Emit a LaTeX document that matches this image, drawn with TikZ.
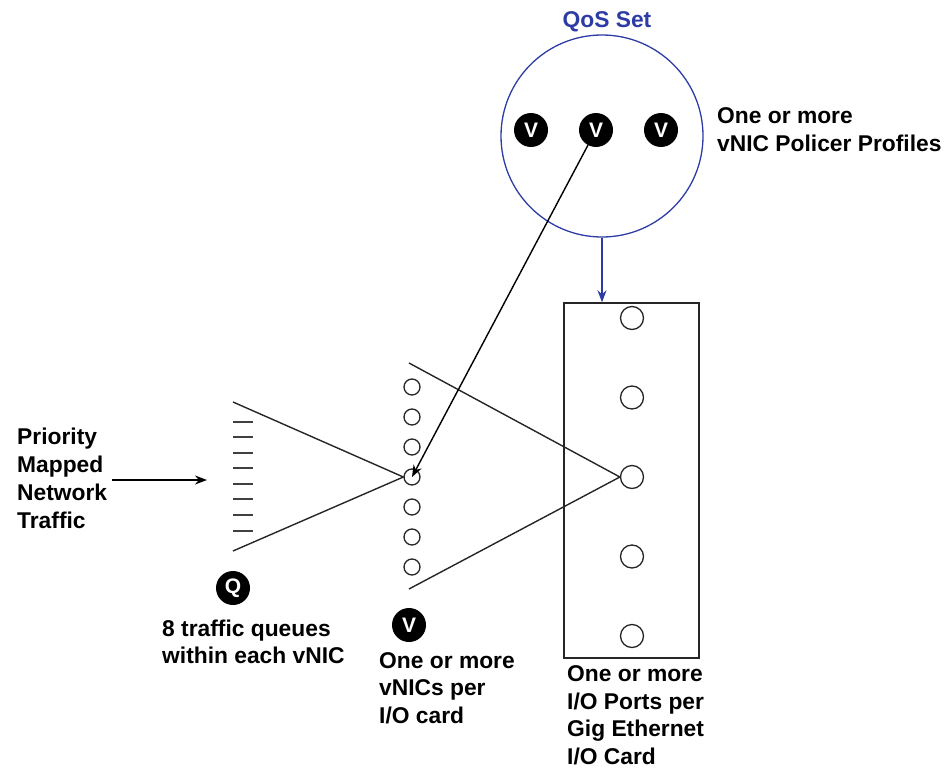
\documentclass[tikz,border=0pt]{standalone}
\usepackage{fontspec}
\setmainfont{Liberation Sans}
\usepackage{tikz}
\usetikzlibrary{positioning,arrows.meta}
\definecolor{qosc}{RGB}{45,60,165}
\newcommand{\lblfont}{\fontsize{22.8}{27.5}\selectfont\bfseries}
\tikzset{
  lab/.style={anchor=base west,align=left,inner sep=0pt,font=\lblfont},
  badge/.style={circle,fill=black,minimum size=34pt,inner sep=0pt,text=white,font=\fontsize{21}{21}\selectfont\bfseries},
  vnic/.style={circle,draw=black!85,line width=1.3pt,minimum size=16pt,inner sep=0pt},
  port/.style={circle,draw=black!85,line width=1.3pt,minimum size=23pt,inner sep=0pt},
  fan/.style={line width=1.4pt,black!85},
  tick/.style={line width=1.3pt,black!75},
  flow/.style={-{Stealth[length=12pt,width=9pt]},line width=1.4pt},
  qflow/.style={-{Stealth[length=12pt,width=9pt]},line width=1.4pt,qosc},
}
\begin{document}
\begin{tikzpicture}[x=1pt,y=-1pt]
  \useasboundingbox (0,0) rectangle (945,768);
  \node[circle,draw=qosc,line width=1.3pt,minimum size=202pt,inner sep=0pt] (qos) at (602,136) {};
  \node[anchor=base,inner sep=0pt,font=\lblfont,text=qosc] (qoslab) at (607,28) {QoS Set};
  \node[badge] (pv1) at (531,130) {V};
  \node[badge] (pv2) at (596,130) {V};
  \node[badge] (pv3) at (661,130) {V};
  \node[lab] (policer) at (717,151) {One or more\\vNIC Policer Profiles};
  \node[draw=black!85,line width=1.4pt,minimum width=135pt,minimum height=355pt,inner sep=0pt] (card) at (631.5,480.5) {};
  \foreach \i in {1,...,5}
    \node[port] (p\i) at (632,{318+79.5*(\i-1)}) {};
  \foreach \i in {1,...,7}
    \node[vnic] (v\i) at (412,{387+30*(\i-1)}) {};
  \foreach \y in {422,437,453,468,484,499,515,531}
    \draw[tick] (233,\y) -- ++(20,0);
  \coordinate (qtop) at (233,402);
  \coordinate (qbot) at (233,551);
  \coordinate (ftop) at (409,363);
  \coordinate (fbot) at (409,589);
  \coordinate (qin) at (207,480);
  \draw[fan] (qtop) -- (v4.west) -- (qbot);
  \draw[fan] (ftop) -- (p3.west) -- (fbot);
  \node[lab,font=\fontsize{22.8}{28}\selectfont\bfseries] (traffic) at (17,528) {Priority\\Mapped\\Network\\Traffic};
  \draw[flow] ([xshift=5pt]qin -| traffic.east) -- (qin);
  \draw[qflow] (qos.south) -- (qos.south |- card.north);
  \draw[flow] (pv2) -- (v4.center);
  \node[badge] (qbadge) at (233,588) {Q};
  \node[lab] (queues) at (162,663.5) {8 traffic queues\\within each vNIC};
  \node[badge] (vbadge) at (409,625) {V};
  \node[lab] (vnics) at (379,723) {One or more\\vNICs per\\I/O card};
  \node[lab] (ports) at (567,764) {One or more\\I/O Ports per\\Gig Ethernet\\I/O Card};
\end{tikzpicture}
\end{document}
